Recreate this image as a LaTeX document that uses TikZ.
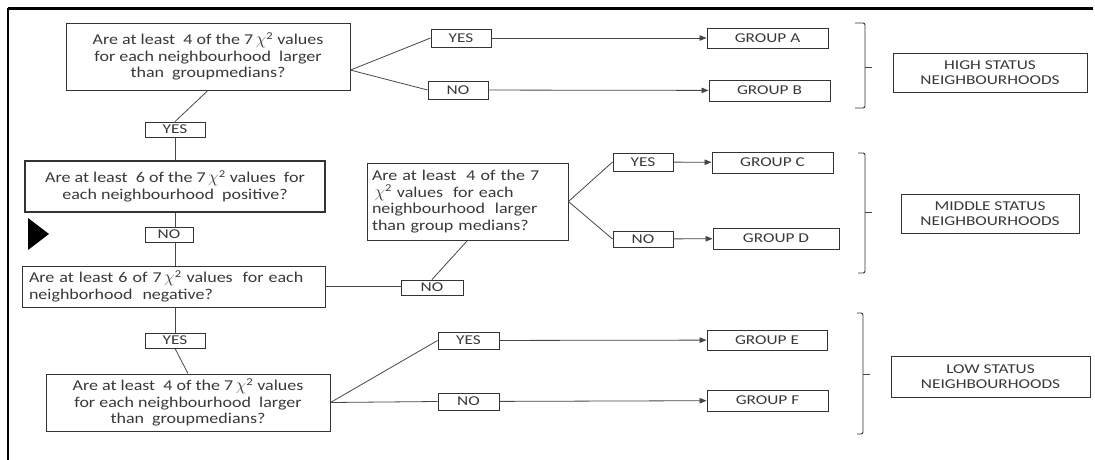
\documentclass[tikz,border=0pt]{standalone}
\usepackage{fontspec}
\setmainfont{Carlito}
\newfontfamily\qfont[FakeStretch=1.2]{Carlito}
\newfontfamily\lfont[FakeStretch=1.28]{Carlito}
\usetikzlibrary{arrows.meta,calc}
\definecolor{ink}{HTML}{333333}
\definecolor{txt}{HTML}{383838}
\newcommand{\chisq}{\,{\fontsize{17}{17}\selectfont$\chi$}\textsuperscript{2}}
\begin{document}
\begin{tikzpicture}[x=1pt,y=-1pt,
  box/.style={draw=ink,line width=0.9pt,inner sep=0pt,text=txt,rectangle},
  qbox/.style={box,font=\qfont\fontsize{15}{16.5}\selectfont,align=center},
  lbox/.style={box,font=\lfont\fontsize{13.5}{15}\selectfont},
  sbox/.style={box,font=\lfont\fontsize{13.5}{15}\selectfont,align=center},
  conn/.style={draw=ink!90,line width=0.8pt},
  arr/.style={conn,-{Triangle[length=7pt,width=5.5pt]}},
  brace/.style={draw=ink,line width=0.9pt,rounded corners=2pt}]
\useasboundingbox (0,0) rectangle (1095,460);
% frame
\draw[line width=3pt] (8,9) -- (1093,9);
\draw[line width=2pt] (8,8) -- (8,460);
% question boxes
\node[qbox,minimum width=284,minimum height=67] (q1) at (208,56.5)
  {Are at least\ \ 4 of the 7\chisq{} values\\for each neighbourhood\ \ larger\\than\ \ groupmedians?};
\node[qbox,line width=2pt,minimum width=300,minimum height=51] (q2) at (175,186.5)
  {Are at least\ \ 6 of the 7\chisq{} values\ \ for\\each neighbourhood\ \ positive?};
\node[qbox,align=left,minimum width=303,minimum height=41,text width=289] (q3) at (173.5,286.5)
  {Are at least 6 of 7\chisq{} values\ \ for each\\neighborhood\ \ negative?};
\node[qbox,align=left,minimum width=201,minimum height=77,text width=191] (q4) at (467.5,201.5)
  {Are at least\ \ 4 of the 7\\\chisq{} values\ \ for each\\neighbourhood\ \ larger\\than group medians?};
\node[qbox,minimum width=284,minimum height=57] (q5) at (188,402.5)
  {Are at least\ \ 4 of the 7\chisq{} values\\for each neighbourhood\ \ larger\\than\ \ groupmedians?};
% yes / no boxes
\node[lbox,minimum width=60,minimum height=15] (yesa) at (175,129.5) {YES};
\node[lbox,minimum width=48,minimum height=15] (noa) at (169,234.5) {NO};
\node[lbox,minimum width=62,minimum height=15] (nob) at (432,287.5) {NO};
\node[lbox,minimum width=60,minimum height=15] (yesb) at (175,340.5) {YES};
\node[lbox,minimum width=60,minimum height=18] (yest) at (461,38) {YES};
\node[lbox,minimum width=60,minimum height=18] (not) at (458,90) {NO};
\node[lbox,minimum width=60,minimum height=18] (yesc) at (643,162) {YES};
\node[lbox,minimum width=60,minimum height=16] (noc) at (643,239) {NO};
\node[lbox,minimum width=61,minimum height=17] (yese) at (468.5,340.5) {YES};
\node[lbox,minimum width=61,minimum height=17] (noe) at (468.5,401.5) {NO};
% groups
\node[lbox,minimum width=121,minimum height=20] (ga) at (767.5,38) {GROUP A};
\node[lbox,minimum width=121,minimum height=21] (gb) at (769.5,90.5) {GROUP B};
\node[lbox,minimum width=121,minimum height=21] (gc) at (772.5,162.5) {GROUP C};
\node[lbox,minimum width=126,minimum height=21] (gd) at (776,238.5) {GROUP D};
\node[lbox,minimum width=120,minimum height=20] (ge) at (767,340) {GROUP E};
\node[lbox,minimum width=121,minimum height=21] (gf) at (767.5,400.5) {GROUP F};
% status boxes
\node[sbox,minimum width=194,minimum height=39] (hi) at (990,72.5) {HIGH STATUS\\NEIGHBOURHOODS};
\node[sbox,minimum width=178,minimum height=39] (mid) at (990,213.5) {MIDDLE STATUS\\NEIGHBOURHOODS};
\node[sbox,minimum width=199,minimum height=41] (lo) at (990.5,376.5) {LOW STATUS\\NEIGHBOURHOODS};
% pointer triangle
\fill[black] (28,218) -- (49,234) -- (28,250) -- cycle;
% connectors
\coordinate (q1r) at ($(q1.south east)!0.3!(q1.north east)$);
\draw[conn] (q1.south) -- (yesa.north);
\draw[conn] (q1r) -- (yest.west);
\draw[conn] (q1r) -- (not.west);
\draw[arr] (yest) -- (ga);
\draw[arr] (not) -- (gb);
\draw[conn] (yesa.south) -- (yesa.south |- q2.north);
\draw[conn] (q2.south -| yesa.south) -- (noa.north -| yesa.south);
\draw[conn] (noa.south -| yesa.south) -- (q3.north -| yesa.south);
\draw[conn] (q3.east) -- (q3.east -| nob.west);
\draw[conn] (nob.north) -- (q4.south);
\draw[conn] (q4.east) -- (yesc.west);
\draw[conn] (q4.east) -- (noc.west);
\draw[arr] (yesc) -- (gc);
\draw[arr] (noc) -- (gd);
\draw[conn] (q3.south -| yesb.north) -- (yesb.north);
\draw[conn] (yesb.south) -- (q5.north);
\draw[conn] (q5.east) -- (yese.west);
\draw[conn] (q5.east) -- (noe.west);
\draw[arr] (yese) -- (ge);
\draw[arr] (noe) -- (gf);
% braces
\draw[brace] (855,23) -- (865,23) -- (865,108) -- (855,108);
\draw[conn] (865,67) -- (872,67);
\draw[brace] (858,153) -- (865,153) -- (865,273) -- (858,273);
\draw[conn] (865,212) -- (872,212);
\draw[brace] (857,313) -- (863,313) -- (863,434) -- (857,434);
\draw[conn] (863,374) -- (870,374);
\end{tikzpicture}
\end{document}
